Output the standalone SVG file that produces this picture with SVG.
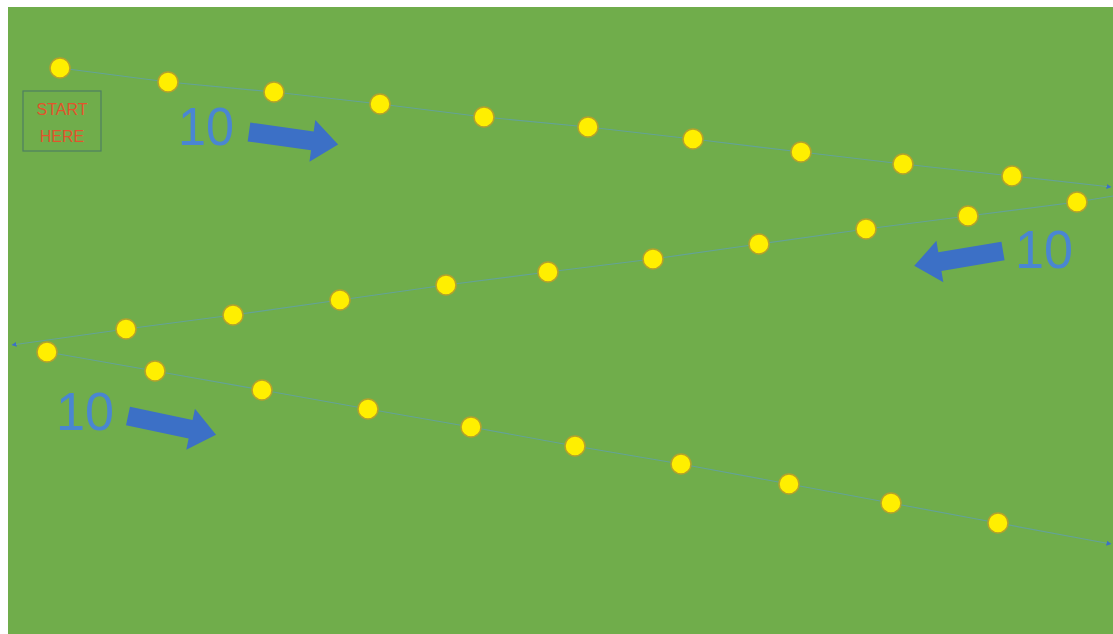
<svg xmlns="http://www.w3.org/2000/svg" width="1113" height="634" viewBox="0 0 1113 634">
<style>
.dot{fill:#ffef00;stroke:#b5a22a;stroke-width:1.5}
.path{fill:none;stroke:#5b9bd5;stroke-width:1.2;stroke-opacity:0.55}
.big{fill:#3c70c6}
.num{font-family:"Liberation Sans",Arial,sans-serif;font-size:54px;fill:#4a86d2}
.start{font-family:"Liberation Sans",Arial,sans-serif;font-size:16px;fill:#e2542c;text-anchor:middle}
</style>
<defs>
<marker id="ah" viewBox="0 0 10 10" refX="9" refY="5" markerWidth="5" markerHeight="5" orient="auto" markerUnits="userSpaceOnUse"><path d="M0,0 L10,5 L0,10 z" fill="#3c70c6"/></marker>
<polygon id="bigarrow" points="0,-9.5 64,-9.5 64,-21 90,0 64,21 64,9.5 0,9.5"/>
</defs>
<rect x="0" y="0" width="1113" height="634" fill="#ffffff"/>
<rect x="8" y="7" width="1105" height="627" fill="#70ad4b"/>
<g id="connectors">
<path class="path" marker-end="url(#ah)" d="M60,68 L168,82 L274,92 L380,104 L484,117 L588,127 L693,139 L801,152 L903,164 L1012,176 L1111,187"/>
<path class="path" marker-end="url(#ah)" d="M1113,196 L1077,202 L968,216 L866,229 L759,244 L653,259 L548,272 L446,285 L340,300 L233,315 L126,329 L12,345"/>
<path class="path" marker-end="url(#ah)" d="M47,352 L155,371 L262,390 L368,409 L471,427 L575,446 L681,464 L789,484 L891,503 L998,523 L1111,544"/>
</g>
<g id="start-box">
<rect x="23" y="91" width="78" height="60" fill="none" stroke="#4e7f62" stroke-width="1.2"/>
<text class="start" x="62" y="115">START</text>
<text class="start" x="62" y="142">HERE</text>
</g>
<g id="row1-dots">
<circle id="d1-1" class="dot" cx="60" cy="68" r="10"/>
<circle id="d1-2" class="dot" cx="168" cy="82" r="10"/>
<circle id="d1-3" class="dot" cx="274" cy="92" r="10"/>
<circle id="d1-4" class="dot" cx="380" cy="104" r="10"/>
<circle id="d1-5" class="dot" cx="484" cy="117" r="10"/>
<circle id="d1-6" class="dot" cx="588" cy="127" r="10"/>
<circle id="d1-7" class="dot" cx="693" cy="139" r="10"/>
<circle id="d1-8" class="dot" cx="801" cy="152" r="10"/>
<circle id="d1-9" class="dot" cx="903" cy="164" r="10"/>
<circle id="d1-10" class="dot" cx="1012" cy="176" r="10"/>
</g>
<g id="row2-dots">
<circle id="d2-1" class="dot" cx="1077" cy="202" r="10"/>
<circle id="d2-2" class="dot" cx="968" cy="216" r="10"/>
<circle id="d2-3" class="dot" cx="866" cy="229" r="10"/>
<circle id="d2-4" class="dot" cx="759" cy="244" r="10"/>
<circle id="d2-5" class="dot" cx="653" cy="259" r="10"/>
<circle id="d2-6" class="dot" cx="548" cy="272" r="10"/>
<circle id="d2-7" class="dot" cx="446" cy="285" r="10"/>
<circle id="d2-8" class="dot" cx="340" cy="300" r="10"/>
<circle id="d2-9" class="dot" cx="233" cy="315" r="10"/>
<circle id="d2-10" class="dot" cx="126" cy="329" r="10"/>
</g>
<g id="row3-dots">
<circle id="d3-1" class="dot" cx="47" cy="352" r="10"/>
<circle id="d3-2" class="dot" cx="155" cy="371" r="10"/>
<circle id="d3-3" class="dot" cx="262" cy="390" r="10"/>
<circle id="d3-4" class="dot" cx="368" cy="409" r="10"/>
<circle id="d3-5" class="dot" cx="471" cy="427" r="10"/>
<circle id="d3-6" class="dot" cx="575" cy="446" r="10"/>
<circle id="d3-7" class="dot" cx="681" cy="464" r="10"/>
<circle id="d3-8" class="dot" cx="789" cy="484" r="10"/>
<circle id="d3-9" class="dot" cx="891" cy="503" r="10"/>
<circle id="d3-10" class="dot" cx="998" cy="523" r="10"/>
</g>
<g id="label1">
<text class="num" x="178" y="145" textLength="56" lengthAdjust="spacingAndGlyphs">10</text>
<use href="#bigarrow" class="big" transform="translate(249,132) rotate(8)"/>
</g>
<g id="label2">
<text class="num" x="1015" y="268" textLength="58" lengthAdjust="spacingAndGlyphs">10</text>
<use href="#bigarrow" class="big" transform="translate(1003,251) rotate(170.5)"/>
</g>
<g id="label3">
<text class="num" x="56" y="430" textLength="58" lengthAdjust="spacingAndGlyphs">10</text>
<use href="#bigarrow" class="big" transform="translate(128,416) rotate(12)"/>
</g>
</svg>
